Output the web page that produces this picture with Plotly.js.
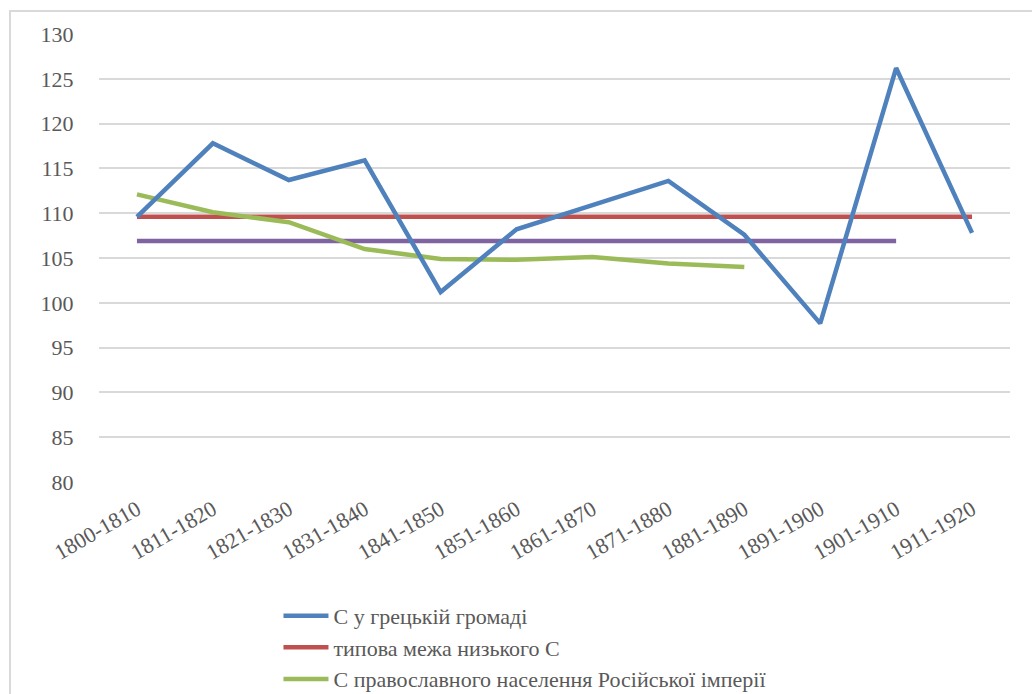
<!DOCTYPE html>
<html>
<head>
<meta charset="utf-8">
<script src="https://cdn.plot.ly/plotly-3.0.1.min.js"></script>
<style>
  html, body { margin: 0; padding: 0; background: #fff; overflow: hidden; }
  #warm { position: absolute; left: -900px; top: 0; font-family: 'Liberation Serif'; font-size: 22px; }
  #frame { position: absolute; left: 9px; top: 10px; width: 1040px; height: 700px; border: 2px solid #d9d9d9; box-sizing: border-box; pointer-events: none; z-index: 5; }
  #chart { position: absolute; left: 0; top: 0; width: 1032px; height: 694px; }
</style>
</head>
<body>
<div id="warm">1800-1810 С у грецькій громаді</div>
<div id="chart"></div>
<div id="frame"></div>
<script>
const categories = ["1800-1810","1811-1820","1821-1830","1831-1840","1841-1850","1851-1860","1861-1870","1871-1880","1881-1890","1891-1900","1901-1910","1911-1920"];
const greekValues = [109.6, 117.8, 113.7, 115.9, 101.2, 108.2, 110.9, 113.6, 107.6, 97.7, 126.2, 107.8];
const lowLimitValues = [109.6, 109.6, 109.6, 109.6, 109.6, 109.6, 109.6, 109.6, 109.6, 109.6, 109.6, 109.6];
const orthodoxValues = [112.1, 110.1, 109.0, 106.0, 104.9, 104.8, 105.1, 104.4, 104.0];
const purpleValues = [106.9, 106.9, 106.9, 106.9, 106.9, 106.9, 106.9, 106.9, 106.9, 106.9, 106.9];
const seriesNames = ["С у грецькій громаді", "типова межа низького С", "С православного населення Російської імперії"];

const lw = 4.5;
function buildTraces() {
  const t = [
    {x: categories, y: greekValues, name: seriesNames[0], type: 'scatter', mode: 'lines', line: {color: '#4f81bd', width: lw}, legendrank: 1},
    {x: categories, y: lowLimitValues, name: seriesNames[1], type: 'scatter', mode: 'lines', line: {color: '#c0504d', width: lw}, legendrank: 2},
    {x: categories.slice(0, orthodoxValues.length), y: orthodoxValues, name: seriesNames[2], type: 'scatter', mode: 'lines', line: {color: '#9bbb59', width: lw}, legendrank: 3},
    {x: categories.slice(0, purpleValues.length), y: purpleValues, name: '', showlegend: false, type: 'scatter', mode: 'lines', line: {color: '#8064a2', width: lw}}
  ];
  return [t[3], t[1], t[2], t[0]];
}

function buildLayout() {
  return {
    width: 1032, height: 694,
    margin: {l: 99, r: 22, t: 34, b: 212, autoexpand: false},
    paper_bgcolor: '#ffffff', plot_bgcolor: '#ffffff',
    font: {family: 'Liberation Serif', size: 22, color: '#595959'},
    showlegend: true,
    legend: {x: 0.197, y: -0.252, xanchor: 'left', yanchor: 'top', orientation: 'v', itemwidth: 45, tracegroupgap: 0, bgcolor: 'rgba(0,0,0,0)'},
    xaxis: {
      type: 'category', range: [-0.5, 11.5], tickangle: -30,
      showgrid: false, zeroline: false, showline: false,
      ticks: 'outside', ticklen: 5, tickcolor: 'rgba(0,0,0,0)'
    },
    yaxis: {
      range: [80, 130], dtick: 5, tick0: 80,
      showgrid: true, gridcolor: '#d9d9d9', gridwidth: 1.5,
      zeroline: false, showline: false,
      ticks: 'outside', ticklen: 20, tickcolor: 'rgba(0,0,0,0)'
    }
  };
}

function draw() {
  return Plotly.newPlot('chart', buildTraces(), buildLayout(), {displayModeBar: false});
}
draw();
if (document.fonts && document.fonts.load) {
  document.fonts.load('22px "Liberation Serif"', '1800 С грецькій').then(function () { draw(); });
}
setTimeout(draw, 200);
</script>
</body>
</html>
